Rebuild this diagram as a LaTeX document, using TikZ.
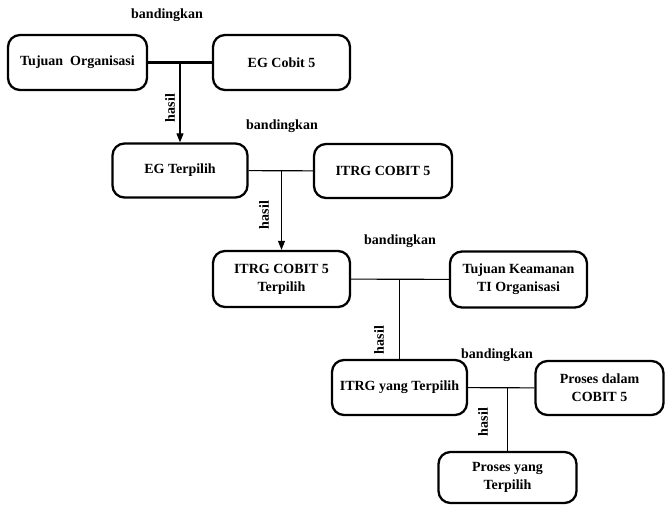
\documentclass[tikz,border=0pt]{standalone}
\usepackage{fontspec}
\setmainfont{Liberation Serif}
\usepackage{tikz}
\usetikzlibrary{arrows.meta}

\begin{document}
\begin{tikzpicture}[x=1pt,y=-1pt,
	box/.style={draw,rounded corners=12pt,line width=2.3pt,align=center,
		minimum height=55pt,inner sep=2pt,font=\fontsize{14}{18}\selectfont\bfseries},
	lbl/.style={font=\fontsize{14}{16}\selectfont\bfseries},
	link/.style={line width=1.1pt},
	result/.style={line width=1.1pt,-{Triangle[length=9pt,width=7pt]}}]
	\useasboundingbox (0,0) rectangle (665,505);

	\node [box,minimum width=139pt] (tujuan org) at (77.5,62.5) {Tujuan\ \ Organisasi};
	\node [box,minimum width=137pt] (eg cobit) at (281.5,62.5) {EG Cobit 5};
	\node [box,minimum width=135pt,minimum height=54pt] (eg terpilih) at (180,170.5) {EG Terpilih};
	\node [box,minimum width=138pt,minimum height=54pt] (itrg cobit) at (383,171) {ITRG COBIT 5};
	\node [box,minimum width=137pt,minimum height=56pt] (itrg cobit terpilih) at (281.5,279) {ITRG COBIT 5\\Terpilih};
	\node [box,minimum width=137pt,minimum height=56pt] (tujuan keamanan) at (518.5,279.5) {Tujuan Keamanan\\TI Organisasi};
	\node [box,minimum width=135pt] (itrg terpilih) at (399.5,387.5) {ITRG yang Terpilih};
	\node [box,minimum width=128pt,minimum height=54pt] (proses cobit) at (599.5,388) {Proses dalam\\COBIT 5};
	\node [box,minimum width=138pt,minimum height=51pt] (proses terpilih) at (507.5,477.5) {Proses yang\\Terpilih};

	\coordinate (join 1) at (tujuan org.east -| eg terpilih.north);
	\coordinate (join 2) at (eg terpilih.east -| itrg cobit terpilih.north);
	\coordinate (join 3) at (itrg cobit terpilih.east -| itrg terpilih.north);
	\coordinate (join 4) at (itrg terpilih.east -| proses terpilih.north);

	\draw [line width=2.8pt] (tujuan org) -- (eg cobit);
	\draw [result] (join 1) -- (eg terpilih.north);
	\draw [link] (eg terpilih) -- (itrg cobit);
	\draw [result] (join 2) -- (itrg cobit terpilih.north);
	\draw [link] (itrg cobit terpilih) -- (tujuan keamanan);
	\draw [link] (join 3) -- (itrg terpilih.north);
	\draw [link] (itrg terpilih) -- (proses cobit);
	\draw [link] (join 4) -- (proses terpilih.north);

	\node [lbl] (banding 1) at (167,15) {bandingkan};
	\node [lbl] (banding 2) at (282,126) {bandingkan};
	\node [lbl] (banding 3) at (400,241) {bandingkan};
	\node [lbl] (banding 4) at (497,355) {bandingkan};
	\node [lbl,rotate=90] (hasil 1) at (170,108) {hasil};
	\node [lbl,rotate=90] (hasil 2) at (264,215) {hasil};
	\node [lbl,rotate=90] (hasil 3) at (379,340) {hasil};
	\node [lbl,rotate=90] (hasil 4) at (483,422) {hasil};

\end{tikzpicture}
\end{document}
